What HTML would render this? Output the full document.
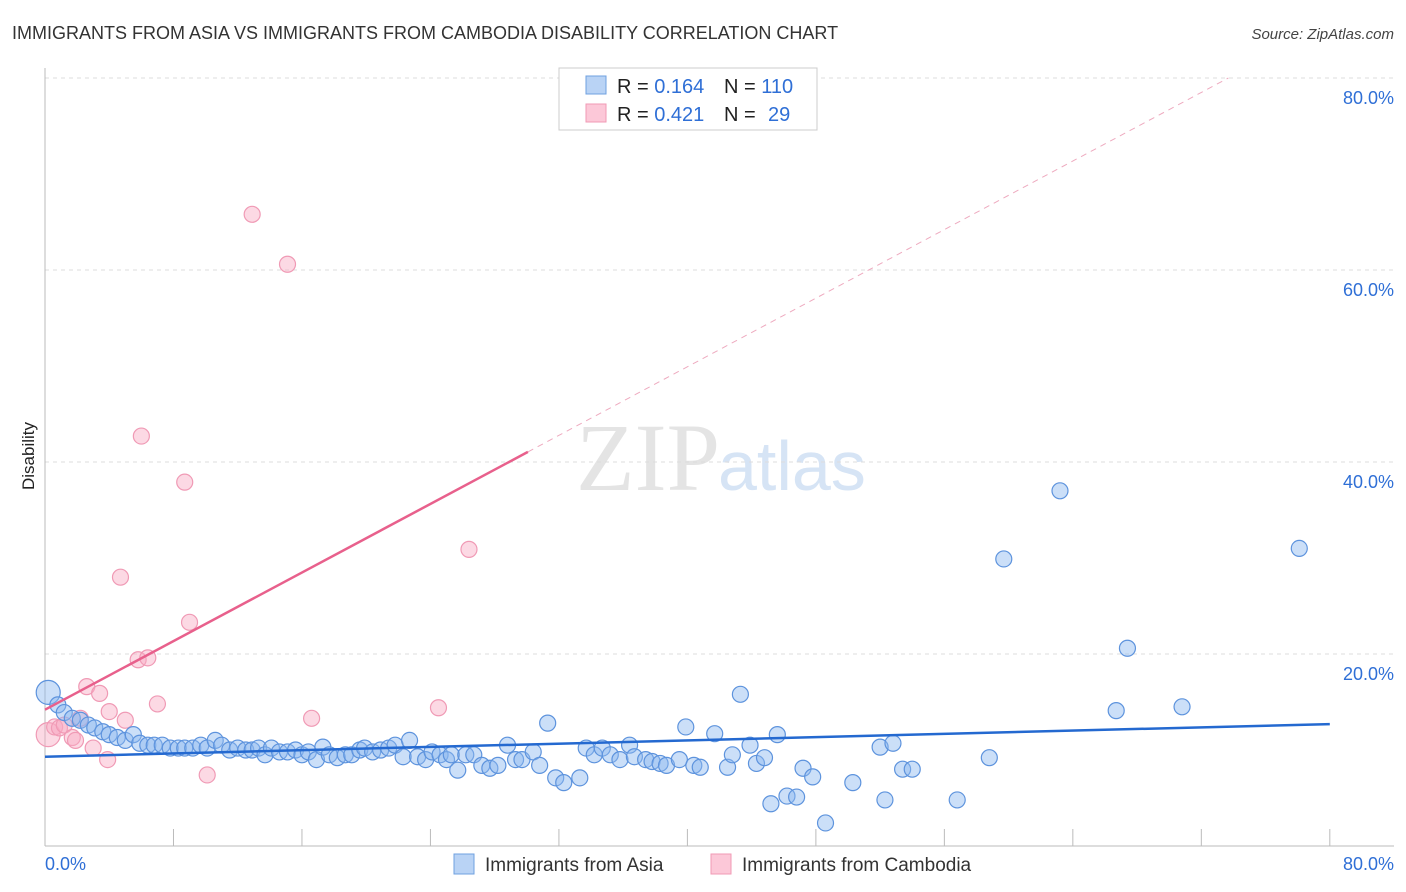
<!DOCTYPE html>
<html><head><meta charset="utf-8"><style>
body{margin:0;background:#fff;font-family:"Liberation Sans",sans-serif}
svg{display:block}
</style></head><body>
<svg id="chart" width="1406" height="892">
<text x="12" y="39" font-size="18" fill="#333">IMMIGRANTS FROM ASIA VS IMMIGRANTS FROM CAMBODIA DISABILITY CORRELATION CHART</text>
<text x="1394" y="39" font-size="15" fill="#444" font-style="italic" text-anchor="end">Source: ZipAtlas.com</text>
<text x="720" y="490" font-size="96" fill="#e4e4e4" text-anchor="end" font-family="Liberation Serif,serif">ZIP</text>
<text x="718" y="490" font-size="70" fill="#d6e4f5">atlas</text>
<text transform="translate(34,456) rotate(-90)" font-size="17" fill="#222" text-anchor="middle">Disability</text>
<g id="grid"></g><g id="marks"></g>
<g>
<rect x="559" y="68" width="258" height="62" fill="#fff" stroke="#ccc"/>
<rect x="586" y="76" width="20" height="18" fill="#b9d3f5" stroke="#6fa0e0"/>
<rect x="586" y="104" width="20" height="18" fill="#fcc8d8" stroke="#f09ab5"/>
<text x="617" y="93" font-size="20" fill="#222">R = <tspan fill="#2f6fd6">0.164</tspan></text>
<text x="724" y="93" font-size="20" fill="#222">N = <tspan fill="#2f6fd6">110</tspan></text>
<text x="617" y="121" font-size="20" fill="#222">R = <tspan fill="#2f6fd6">0.421</tspan></text>
<text x="724" y="121" font-size="20" fill="#222">N = </text>
<text x="768" y="121" font-size="20" fill="#2f6fd6">29</text>
</g>
<g>
<rect x="454" y="854" width="20" height="20" fill="#b9d3f5" stroke="#6fa0e0"/>
<text x="485" y="871" font-size="19" fill="#333">Immigrants from Asia</text>
<rect x="711" y="854" width="20" height="20" fill="#fcc8d8" stroke="#f09ab5"/>
<text x="742" y="871" font-size="19" fill="#333">Immigrants from Cambodia</text>
</g>
</svg>
<script>
const asiaX=[0.2,0.8,1.2,1.7,2.2,2.7,3.1,3.6,4.0,4.5,5.0,5.5,5.9,6.4,6.8,7.3,7.8,8.3,8.7,9.2,9.7,10.1,10.6,11.0,11.5,12.0,12.5,12.9,13.3,13.7,14.1,14.6,15.1,15.6,16.0,16.4,16.9,17.3,17.7,18.2,18.7,19.1,19.6,19.9,20.4,20.9,21.4,21.8,22.3,22.7,23.2,23.7,24.1,24.6,25.0,25.3,25.7,26.2,26.7,27.2,27.7,28.2,28.8,29.3,29.7,30.4,30.8,31.3,31.8,32.3,33.3,33.7,34.2,34.7,35.2,35.8,36.4,36.7,37.4,37.8,38.3,38.7,39.5,39.9,40.4,40.8,41.7,42.5,42.8,43.3,43.9,44.3,44.8,45.2,45.6,46.2,46.8,47.2,47.8,48.6,50.3,52.0,52.3,52.8,53.4,54.0,56.8,58.8,59.7,63.2,66.7,67.4,70.8,78.1];
const asiaY=[16.0,14.7,13.9,13.3,13.1,12.6,12.3,11.9,11.6,11.3,11.0,11.6,10.7,10.5,10.5,10.5,10.2,10.2,10.2,10.2,10.5,10.2,11.0,10.5,10.0,10.2,10.0,10.0,10.2,9.5,10.2,9.8,9.8,10.0,9.5,9.8,9.0,10.3,9.5,9.2,9.5,9.5,10.0,10.2,9.8,10.0,10.2,10.5,9.3,11.0,9.3,9.0,9.8,9.5,9.0,9.5,7.9,9.5,9.5,8.4,8.1,8.4,10.5,9.0,9.0,9.8,8.4,12.8,7.1,6.6,7.1,10.2,9.5,10.2,9.5,9.0,10.5,9.3,9.0,8.8,8.6,8.4,9.0,12.4,8.4,8.2,11.7,8.2,9.5,15.8,10.5,8.6,9.2,4.4,11.6,5.2,5.1,8.1,7.2,2.4,6.6,10.3,4.8,10.7,8.0,8.0,4.8,9.2,29.9,37.0,14.1,20.6,14.5,31.0];
const cambX=[0.2,0.6,0.9,1.2,1.7,1.9,2.2,2.6,3.0,3.4,3.9,4.0,5.0,4.7,5.8,6.0,6.4,7.0,8.7,9.0,10.1,12.9,15.1,16.6,24.5,26.4];
const cambY=[11.6,12.4,12.3,12.6,11.3,11.0,13.3,16.6,10.2,15.9,9.0,14.0,13.1,28.0,19.4,42.7,19.6,14.8,37.9,23.3,7.4,65.8,60.6,13.3,14.4,30.9];
const yTicks=[20,40,60,80];
const yTickLabels=["20.0%","40.0%","60.0%","80.0%"];
const asiaTrend=[9.3,12.7];
const cambTrend=[14.2,0.893];
const NS='http://www.w3.org/2000/svg';
const X=v=>45+v*16.06, Y=v=>846-v*9.6;
function mk(tag,attrs,parent){const e=document.createElementNS(NS,tag);for(const k in attrs)e.setAttribute(k,attrs[k]);document.getElementById(parent).appendChild(e);return e;}
let e;
yTicks.forEach((t,i)=>{
 e=mk('line',{x1:45,x2:1394,y1:Y(t),y2:Y(t),stroke:'#ddd','stroke-dasharray':'4,4'},'grid');
 
 
 e=mk('text',{x:1394,y:Y(t)+26,'font-size':18,fill:'#2f6fd6','text-anchor':'end'},'grid');
 e.textContent=yTickLabels[i];
 
 
});
e=mk('line',{x1:45,x2:45,y1:68,y2:846,stroke:'#bbb'},'grid');


e=mk('line',{x1:45,x2:1394,y1:846,y2:846,stroke:'#bbb'},'grid');


for(let i=0;i<=10;i++){
 e=mk('line',{x1:X(i*8),x2:X(i*8),y1:829,y2:846,stroke:'#bbb'},'grid');
 
 
}
e=mk('text',{x:45,y:870,'font-size':18,fill:'#2f6fd6'},'grid');e.textContent='0.0%';


e=mk('text',{x:1394,y:870,'font-size':18,fill:'#2f6fd6','text-anchor':'end'},'grid');e.textContent='80.0%';


cambX.forEach((x,i)=>{
 e=mk('circle',{cx:X(x),cy:Y(cambY[i]),r:i==0?12:8,fill:'rgba(249,170,195,0.45)',stroke:'#f09ab5','stroke-width':1.2},'marks');
 
 
});
asiaX.forEach((x,i)=>{
 e=mk('circle',{cx:X(x),cy:Y(asiaY[i]),r:i==0?12:8,fill:'rgba(140,185,240,0.45)',stroke:'#5d93dd','stroke-width':1.2},'marks');
 
 
});
e=mk('line',{x1:X(0),y1:Y(asiaTrend[0]),x2:X(80),y2:Y(asiaTrend[1]),stroke:'#2469d0','stroke-width':2.5},'marks');


const xs=30.07, xe=(80-cambTrend[0])/cambTrend[1];
e=mk('line',{x1:X(0),y1:Y(cambTrend[0]),x2:X(xs),y2:Y(cambTrend[0]+cambTrend[1]*xs),stroke:'#e8608c','stroke-width':2.5},'marks');


e=mk('line',{x1:X(xs),y1:Y(cambTrend[0]+cambTrend[1]*xs),x2:X(xe),y2:Y(80),stroke:'#eeaabf','stroke-width':1,'stroke-dasharray':'6,5'},'marks');


</script>
</body></html>
